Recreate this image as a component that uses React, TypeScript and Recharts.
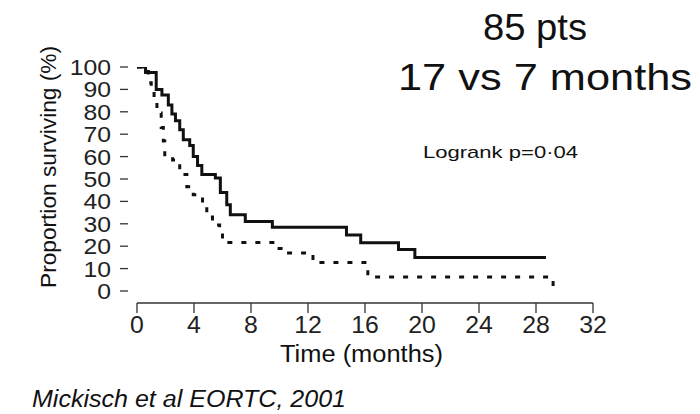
import React from "react";
import { LineChart, Line, XAxis, YAxis, ReferenceLine } from "recharts";

const FONT = "'Liberation Sans', Arial, sans-serif";

// Kaplan-Meier curves (time in months, % surviving)
const solidTime = [0, 0.6, 1.35, 1.75, 2.2, 2.45, 2.7, 3.0, 3.25, 3.7, 3.95, 4.25, 4.55, 5.5, 5.85, 6.3, 6.55, 7.6, 9.5, 14.7, 15.7, 18.35, 19.5, 28.7];
const solidSurv = [100, 97.6, 90, 87.5, 83, 79, 76, 72, 67.5, 65, 60, 56, 52, 50.5, 44, 38.5, 34, 31, 28.5, 25, 21.5, 18.5, 15, 15];

const dashedTime = [0, 0.6, 0.8, 1.0, 1.2, 1.4, 1.7, 1.85, 1.95, 2.5, 3.0, 3.5, 3.95, 4.6, 4.9, 5.3, 5.8, 6.0, 9.85, 10.4, 12.35, 16.2, 29.2];
const dashedSurv = [100, 98, 93, 89, 84.5, 79.5, 73, 67, 60, 58.5, 52, 46.5, 43, 39, 33, 29.5, 25, 21.6, 19, 17, 12.7, 6.3, 0];

const xTicks = [0, 4, 8, 12, 16, 20, 24, 28, 32];
const yTicks = [0, 10, 20, 30, 40, 50, 60, 70, 80, 90, 100];

const solidData = solidTime.map((t, i) => ({ t, s: solidSurv[i] }));
const dashedData = dashedTime.map((t, i) => ({ t, s: dashedSurv[i] }));

const XTick = (props: any) => {
  const { x, y, payload } = props;
  return (
    <g transform={`translate(${x},${y + 16})`}>
      <text transform="scale(1.08,1)" textAnchor="middle" fontSize={23} fontFamily={FONT} fill="#222">
        {payload.value}
      </text>
    </g>
  );
};

const YTick = (props: any) => {
  const { x, y, payload } = props;
  return (
    <g transform={`translate(${x},${y + 8})`}>
      <text transform="scale(1.1,1)" textAnchor="end" fontSize={22.5} fontFamily={FONT} fill="#222">
        {payload.value}
      </text>
    </g>
  );
};

const App = () => {
  return (
    <div style={{ position: "relative", width: 700, height: 414, background: "#fff" }}>
      <style>{"body{margin:0}"}</style>
      <LineChart
        width={700}
        height={414}
        margin={{ top: 67, right: 107, bottom: 51, left: 68 }}
      >
        <XAxis
          type="number"
          dataKey="t"
          domain={[-0.63, 32]}
          allowDataOverflow
          ticks={xTicks}
          interval={0}
          axisLine={false}
          tickSize={10}
          tickMargin={4}
          tickLine={{ stroke: "#333", strokeWidth: 1.3 }}
          tick={<XTick />}
          height={60}
        />
        <YAxis
          type="number"
          dataKey="s"
          domain={[-5.36, 100]}
          allowDataOverflow
          ticks={yTicks}
          interval={0}
          axisLine={false}
          tickSize={8}
          tickMargin={9}
          tickLine={{ stroke: "#333", strokeWidth: 1.3 }}
          tick={<YTick />}
          width={60}
        />
        <ReferenceLine
          segment={[{ x: 0, y: -5.36 }, { x: 32, y: -5.36 }]}
          stroke="#333"
          strokeWidth={1.3}
        />
        <ReferenceLine
          segment={[{ x: -0.63, y: 0 }, { x: -0.63, y: 100.8 }]}
          stroke="#333"
          strokeWidth={1.3}
        />
        <Line
          data={dashedData}
          dataKey="s"
          type="stepAfter"
          stroke="#111"
          strokeWidth={3}
          strokeDasharray="5 9"
          dot={false}
          isAnimationActive={false}
        />
        <Line
          data={solidData}
          dataKey="s"
          type="stepAfter"
          stroke="#111"
          strokeWidth={3}
          dot={false}
          isAnimationActive={false}
        />
      </LineChart>
      <svg
        width={700}
        height={414}
        style={{ position: "absolute", left: 0, top: 0, pointerEvents: "none" }}
      >
        <g fontFamily={FONT} fill="#111">
          <text x={535} y={40} fontSize={36} textAnchor="middle" textLength={104} lengthAdjust="spacingAndGlyphs">
            85 pts
          </text>
          <text x={545} y={90} fontSize={36} textAnchor="middle" textLength={294} lengthAdjust="spacingAndGlyphs">
            17 vs 7 months
          </text>
          <text x={423} y={158} fontSize={17} textLength={155} lengthAdjust="spacingAndGlyphs">
            Logrank p=0·04
          </text>
          <text x={280} y={362} fontSize={23} textLength={163} lengthAdjust="spacingAndGlyphs">
            Time (months)
          </text>
          <text
            transform="translate(56,167) rotate(-90)"
            fontSize={22.5}
            textAnchor="middle"
            textLength={242}
            lengthAdjust="spacingAndGlyphs"
          >
            Proportion surviving (%)
          </text>
          <text x={32} y={407} fontSize={23} fontStyle="italic" textLength={314} lengthAdjust="spacingAndGlyphs">
            Mickisch et al EORTC, 2001
          </text>
        </g>
      </svg>
    </div>
  );
};

export default App;
